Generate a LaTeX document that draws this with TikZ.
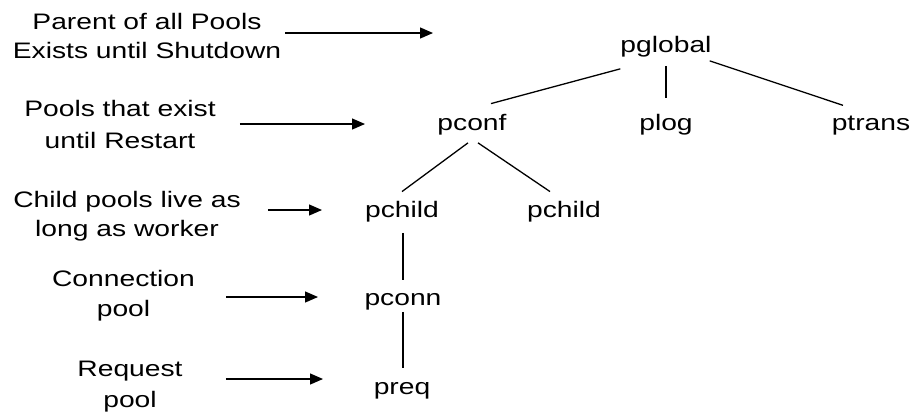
\documentclass[tikz,border=0pt]{standalone}
\usepackage{fontspec}
\setmainfont{Liberation Sans}[FakeStretch=1.26]
\usetikzlibrary{arrows.meta}

\begin{document}
\begin{tikzpicture}[
      x=1pt,y=-1pt,
      pool/.style={inner sep=0pt,anchor=base,font=\fontsize{22.4}{29.5}\selectfont},
      remark/.style={inner sep=0pt,anchor=north,align=center,
                     font=\fontsize{22.4}{29.5}\selectfont},
      branch/.style={draw=black,line width=1.3pt},
      pointer/.style={-{Triangle[length=13pt,width=11pt]},draw=black,line width=1.3pt}
    ]
    \useasboundingbox (0,0) rectangle (913,416);

    % pool tree
    \node[pool] (pglobal) at (666,52) {pglobal};
    \node[pool] (pconf) at (472,130) {pconf};
    \node[pool] (plog) at (666,130) {plog};
    \node[pool] (ptrans) at (871,130) {ptrans};
    \node[pool] (pchildA) at (402,217) {pchild};
    \node[pool] (pchildB) at (564,217) {pchild};
    \node[pool] (pconn) at (403,305) {pconn};
    \node[pool] (preq) at (402,394) {preq};

    \draw[branch] ([yshift=-12pt]pglobal.south west) -- ([xshift=19pt,yshift=10pt]pconf.north);
    \draw[branch] ([yshift=-9pt]pglobal.south) -- ([yshift=16pt]plog.north);
    \draw[branch] ([xshift=-2pt,yshift=-4pt]pglobal.south east) -- ([xshift=-28pt,yshift=10pt]ptrans.north);
    \draw[branch] ([xshift=-4pt,yshift=-8pt]pconf.south) -- ([yshift=9pt]pchildA.north);
    \draw[branch] ([xshift=6pt,yshift=-8pt]pconf.south) -- ([xshift=-14pt,yshift=9pt]pchildB.north);
    \draw[branch] ([xshift=1pt,yshift=-11pt]pchildA.south) -- ([yshift=13pt]pconn.north);
    \draw[branch] ([yshift=-2pt]pconn.south) -- ([xshift=1pt,yshift=14pt]preq.north);

    % lifetimes
    \node[remark] (lifeGlobal) at (147,13) {Parent of all Pools\\Exists until Shutdown};
    \node[remark] (lifeConf) at (120,100.4) {Pools that exist\\[2pt]until Restart};
    \node[remark] (lifeChild) at (127,190.7) {Child pools live as\\long as worker};
    \node[remark] (lifeConn) at (123.5,270.5) {Connection\\pool};
    \node[remark] (lifeReq) at (130,360.7) {Request\\[1.5pt]pool};

    \coordinate (tipGlobal) at (433,33);
    \coordinate (tipConf) at (365,124);
    \coordinate (tipChild) at (322,210);
    \coordinate (tipConn) at (318,297);
    \coordinate (tipReq) at (323,379);

    \draw[pointer] (lifeGlobal.east |- tipGlobal) ++(4,0) -- (tipGlobal);
    \draw[pointer] (lifeConf.east |- tipConf) ++(24,0) -- (tipConf);
    \draw[pointer] (lifeChild.east |- tipChild) ++(27,0) -- (tipChild);
    \draw[pointer] (lifeConn.east |- tipConn) ++(31,0) -- (tipConn);
    \draw[pointer] (lifeReq.east |- tipReq) ++(43,0) -- (tipReq);
  \end{tikzpicture}
\end{document}
